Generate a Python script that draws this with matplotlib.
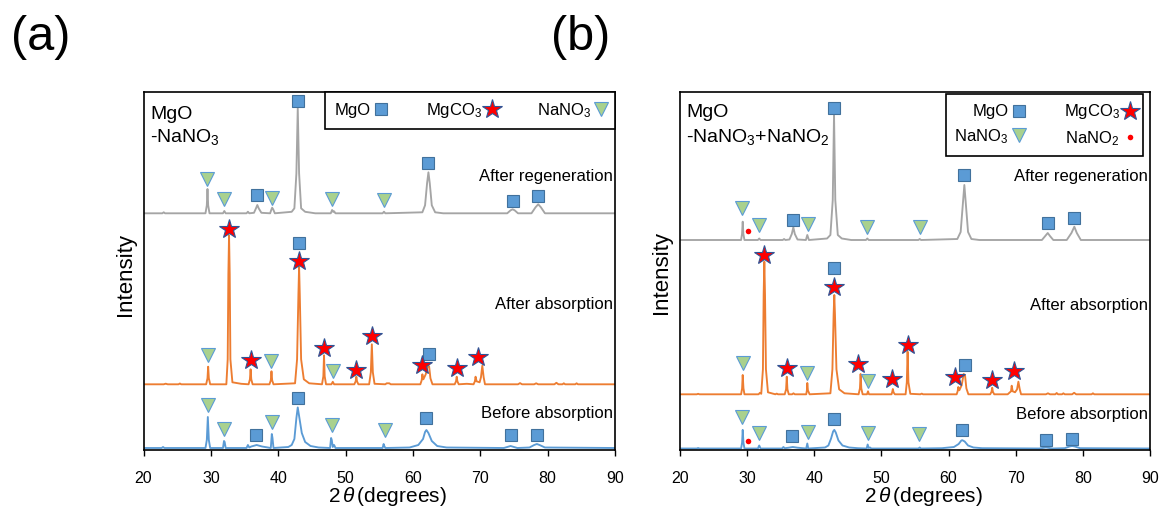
import matplotlib
matplotlib.use("Agg")
import matplotlib.pyplot as plt
from matplotlib.lines import Line2D

plt.rcParams['font.family'] = ['Liberation Sans', 'DejaVu Sans']
plt.rcParams['mathtext.fontset'] = 'custom'
plt.rcParams['mathtext.rm'] = 'Liberation Sans'
plt.rcParams['mathtext.it'] = 'Liberation Sans:italic'
plt.rcParams['mathtext.bf'] = 'Liberation Sans:bold'

# ---- panel (a): MgO-NaNO3, curves as (2theta, height above own baseline) ----
blue_a = [(20, 0), (22.7, 0), (22.9, 1), (23.1, 0), (29.2, 0), (29.4, 8), (29.55, 31), (29.7, 8), (29.9, 0),
          (31.8, 0), (31.95, 7), (32.05, 6), (32.2, 0), (35.3, 0), (35.5, 3), (35.7, 0.5), (36.0, 1.5),
          (36.8, 3), (37.6, 1.5), (38.9, 0), (39.05, 14), (39.15, 10), (39.3, 0), (41.5, 1), (42.0, 3),
          (42.4, 9), (42.7, 30), (42.9, 40.6), (43.1, 32), (43.5, 15), (44.0, 6), (44.8, 2), (46.0, 0.5),
          (47.7, 0), (47.85, 10), (47.95, 8), (48.1, 1), (48.3, 3), (48.5, 0), (55.5, 0), (55.65, 4),
          (55.75, 2), (55.9, 0), (59.5, 0.5), (60.8, 3), (61.5, 9), (61.8, 16), (62.0, 18), (62.3, 15),
          (62.8, 7), (63.6, 2), (65.0, 0.5), (73.5, 0), (74.5, 2), (75.5, 0), (77.3, 0.5), (78.0, 3),
          (78.4, 4), (78.8, 3), (79.6, 0.5), (90, 0)]
orange_a = [(20, 0), (23.0, 0), (23.3, 0.6), (23.6, 0), (25.2, 0), (25.4, 0.8), (25.6, 0), (29.3, 0),
            (29.5, 6), (29.6, 17.6), (29.7, 6), (29.9, 0), (32.3, 0), (32.5, 25), (32.6, 110), (32.7, 149),
            (32.8, 110), (32.9, 25), (33.2, 2), (34.5, 0.5), (35.6, 0), (35.8, 5), (35.9, 15), (36.0, 5),
            (36.2, 0), (38.7, 0), (38.9, 4), (39.0, 13), (39.1, 4), (39.3, 0), (42.5, 1), (42.8, 25),
            (43.0, 90), (43.1, 117.6), (43.2, 90), (43.4, 25), (43.8, 5), (44.6, 1), (46.5, 0), (46.7, 8),
            (46.8, 29), (46.9, 8), (47.1, 0), (47.9, 0), (48.1, 2.5), (48.3, 0), (51.3, 0), (51.5, 3),
            (51.6, 7.6), (51.7, 3), (51.9, 0), (53.5, 0), (53.75, 12), (53.9, 40), (54.05, 12), (54.3, 0.5),
            (55.9, 0), (56.1, 1), (56.5, 1), (56.7, 0), (61.1, 0), (61.3, 4), (61.4, 10), (61.55, 5),
            (61.9, 10), (62.2, 19), (62.4, 18), (62.6, 6), (62.9, 0), (66.2, 0), (66.4, 3), (66.5, 7.6),
            (66.6, 3), (66.8, 0), (68.0, 0.5), (69.0, 0), (69.2, 3), (69.3, 7.6), (69.45, 3), (69.9, 2),
            (70.1, 7), (70.3, 18.6), (70.5, 7), (70.7, 0), (75.6, 0), (75.9, 1.2), (76.2, 0), (78.0, 0),
            (78.3, 1), (78.6, 0), (81.0, 0), (81.3, 1.5), (81.6, 0), (82.2, 0), (82.4, 1), (82.6, 0),
            (84.1, 0), (84.3, 1), (84.5, 0), (90, 0)]
grey_a = [(20, 0), (22.8, 0), (23.0, 1), (23.2, 0), (29.2, 0), (29.4, 8), (29.5, 24.3), (29.6, 8), (29.8, 0),
          (31.8, 0), (32.0, 2.3), (32.2, 0), (35.3, 0), (35.5, 1.6), (35.7, 0), (36.4, 0.5), (36.7, 5),
          (36.9, 8.3), (37.1, 5), (37.5, 0.5), (38.8, 0), (39.0, 4), (39.1, 5.6), (39.25, 4), (39.5, 0),
          (42.0, 1.5), (42.4, 5), (42.7, 40), (42.9, 105), (43.1, 40), (43.4, 5), (44.0, 1.5), (45.5, 0),
          (47.8, 0), (48.0, 3.3), (48.15, 1.5), (48.3, 2), (48.5, 0), (55.5, 0), (55.7, 1.6), (55.9, 0),
          (61.4, 1), (61.8, 8), (62.1, 30), (62.3, 41), (62.5, 30), (62.8, 8), (63.3, 1), (64.5, 0),
          (74.0, 0), (74.5, 3), (74.8, 4), (75.1, 3), (75.6, 0), (77.6, 0), (78.2, 6), (78.6, 9),
          (79.0, 6), (79.6, 0), (90, 0)]
offsets_a = {'blue': 2, 'orange': 65.7, 'grey': 236.7}

# phase markers (2theta, absolute intensity)
squares_a = [(36.9, 255), (42.9, 349), (62.3, 286.7), (74.8, 249), (78.6, 254),
             (43.1, 207.3), (62.4, 96),
             (36.7, 15.2), (42.9, 52), (62.0, 32.4), (74.5, 15.2), (78.4, 15.2)]
triangles_a = [(29.5, 270.7), (32.0, 250.7), (39.1, 252.3), (48.0, 251), (55.7, 250),
               (29.6, 95), (39.0, 89.3), (48.1, 79.3),
               (29.6, 45), (32.0, 21.3), (39.1, 28), (48.0, 24.7), (55.8, 19.6)]
stars_a = [(32.7, 220.7), (35.9, 90), (43.1, 189.3), (46.8, 101.7), (51.6, 80), (53.9, 114),
           (61.3, 85), (66.5, 81.7), (69.6, 93.3)]
dots_a = []

# ---- panel (b): MgO-NaNO3+NaNO2 ----
blue_b = [(20, 0), (22.5, 0), (22.7, 0.5), (22.9, 0), (29.1, 0), (29.25, 6), (29.34, 18.6), (29.45, 6),
          (29.6, 0), (31.6, 0), (31.8, 3), (32.0, 0), (35.2, 0), (35.4, 1.5), (35.6, 0.3), (36.2, 0.8),
          (36.8, 1.5), (37.5, 0.8), (38.8, 0), (38.96, 5), (39.1, 0), (41.6, 1), (42.1, 3), (42.5, 10),
          (42.8, 17), (42.98, 18.6), (43.2, 16), (43.6, 8), (44.2, 3), (45.2, 1), (46.5, 0.3),
          (47.8, 0), (47.95, 4), (48.1, 0.5), (48.3, 1), (48.5, 0), (55.5, 0), (55.7, 1), (55.9, 0),
          (59.0, 0.3), (60.8, 1.5), (61.5, 4.5), (61.9, 8), (62.05, 8.3), (62.4, 7), (62.9, 3),
          (63.7, 1), (65.0, 0.3), (73.5, 0), (74.5, 1), (75.5, 0), (77.3, 0.3), (78.0, 2), (78.4, 2.5),
          (78.8, 2), (79.6, 0.3), (90, 0)]
orange_b = [(20, 0), (22.5, 0), (22.7, 0.5), (22.9, 0), (29.1, 0), (29.25, 6), (29.34, 19.3), (29.45, 6),
            (29.6, 0), (31.7, 0), (31.9, 1.5), (32.1, 0.5), (32.35, 25), (32.46, 100), (32.56, 132.6),
            (32.66, 100), (32.8, 25), (33.1, 2), (34.2, 0), (34.4, 0.7), (34.6, 0), (35.6, 0),
            (35.8, 5), (35.9, 17.6), (36.0, 5), (36.2, 0), (36.7, 0), (36.9, 1), (37.1, 0), (38.8, 0),
            (38.9, 4), (38.96, 11.3), (39.05, 4), (39.3, 0), (42.4, 1), (42.7, 25), (42.88, 80),
            (42.98, 99.3), (43.08, 80), (43.3, 25), (43.7, 5), (44.5, 1), (46.6, 0), (46.8, 6),
            (46.9, 20.3), (47.0, 6), (47.2, 0), (47.85, 0), (48.0, 3), (48.15, 0), (51.5, 0),
            (51.6, 2), (51.7, 5.3), (51.8, 2), (52.0, 0), (53.6, 0), (53.78, 12), (53.9, 42.6),
            (54.02, 12), (54.3, 0.5), (55.8, 0), (56.0, 0.7), (56.2, 0), (61.2, 0), (61.35, 3),
            (61.45, 7.3), (61.6, 4), (61.95, 9), (62.25, 20.3), (62.45, 19), (62.65, 6), (62.95, 0),
            (66.2, 0), (66.4, 2.5), (66.5, 6.6), (66.6, 2.5), (66.8, 0), (68.8, 0), (69.3, 3),
            (69.4, 8.6), (69.55, 3), (69.9, 2), (70.2, 5), (70.4, 12.6), (70.6, 5), (70.8, 0),
            (74.5, 0), (74.8, 1), (75.1, 0), (75.9, 0), (76.1, 1.3), (76.3, 0), (76.9, 0), (77.1, 1),
            (77.3, 0), (78.4, 0), (78.7, 1.5), (79.0, 0), (81.3, 0), (81.5, 1), (81.7, 0), (90, 0)]
grey_b = [(20, 0), (29.1, 0), (29.24, 6), (29.34, 18.3), (29.44, 6), (29.6, 0), (31.6, 0), (31.8, 1.5),
          (32.0, 0), (35.3, 0), (35.5, 1), (35.7, 0), (36.3, 0.5), (36.65, 6), (36.88, 12.7),
          (37.1, 6), (37.5, 0.5), (38.75, 0), (38.96, 5), (39.2, 0), (41.9, 1.5), (42.4, 5),
          (42.75, 40), (42.94, 125.7), (43.13, 40), (43.5, 5), (44.1, 1.5), (45.5, 0), (47.7, 0),
          (47.9, 1.5), (48.1, 0), (55.5, 0), (55.7, 1), (55.9, 0), (61.3, 1), (61.8, 8), (62.15, 38),
          (62.35, 55), (62.55, 38), (62.9, 8), (63.4, 1), (64.6, 0), (73.9, 0), (74.4, 4), (74.77, 7),
          (75.1, 4), (75.6, 0), (77.6, 0), (78.3, 7), (78.73, 13.3), (79.1, 7), (79.7, 0), (90, 0)]
offsets_b = {'blue': 1.5, 'orange': 55.7, 'grey': 210}

squares_b = [(36.9, 230), (42.94, 342.3), (62.35, 275), (74.8, 227), (78.7, 232.3),
             (42.98, 181.7), (62.45, 85),
             (36.7, 14), (43.0, 30.7), (62.05, 20), (74.5, 10), (78.4, 10.7)]
triangles_b = [(29.3, 241.7), (31.8, 225), (39.0, 226), (47.9, 223.3), (55.7, 222.7),
               (29.34, 86.7), (38.96, 77.3), (48.05, 69.3),
               (29.3, 33.3), (31.8, 16.7), (39.0, 18.3), (48.05, 16.7), (55.55, 16)]
stars_b = [(32.56, 195), (35.9, 81.7), (42.98, 163.3), (46.56, 86), (51.6, 70.7), (54.0, 105),
           (60.96, 73.3), (66.4, 70), (69.8, 79.3)]
dots_b = [(30.2, 219), (30.2, 9.3)]

line_colors = {'grey': '#A5A5A5', 'orange': '#ED7D31', 'blue': '#5B9BD5'}
sq_style = dict(marker='s', ms=8, mfc='#5B9BD5', mec='#41719C', mew=0.8)
tri_style = dict(marker='v', ms=9.5, mfc='#A9D18E', mec='#5B9BD5', mew=0.8)
star_style = dict(marker='*', ms=15, mfc='#FF0000', mec='#2F5597', mew=0.8)
dot_style = dict(marker='o', ms=4, mfc='#FF0000', mec='#FF0000', mew=0)

W, H = 1162, 512
fig = plt.figure(figsize=(W / 100, H / 100), dpi=100)


def fx(px):
    return px / W


def fy(py):
    return 1 - py / H


def draw_panel(ax, curves, offsets, squares, triangles, stars, dots):
    for name in ['blue', 'orange', 'grey']:
        xs = [p[0] for p in curves[name]]
        ys = [p[1] + offsets[name] for p in curves[name]]
        ax.plot(xs, ys, color=line_colors[name], lw=1.35, zorder=2)
    for pts, st in [(squares, sq_style), (triangles, tri_style), (stars, star_style), (dots, dot_style)]:
        if pts:
            ax.plot([p[0] for p in pts], [p[1] for p in pts], ls='none', zorder=4, clip_on=False, **st)
    ax.set_xlim(20, 90)
    ax.set_ylim(0, 358)
    ax.set_xticks(range(20, 91, 10))
    ax.set_yticks([])
    ax.tick_params(axis='x', direction='out', length=4, width=1, labelsize=11.5, pad=11)
    for s in ax.spines.values():
        s.set_linewidth(1.2)
        s.set_color('black')


ax_a = fig.add_axes([fx(143.5), fy(450), fx(615 - 143.5), (450 - 92) / H])
ax_b = fig.add_axes([fx(680), fy(450), fx(1150 - 680), (450 - 92) / H])

draw_panel(ax_a, {'blue': blue_a, 'orange': orange_a, 'grey': grey_a}, offsets_a,
           squares_a, triangles_a, stars_a, dots_a)
draw_panel(ax_b, {'blue': blue_b, 'orange': orange_b, 'grey': grey_b}, offsets_b,
           squares_b, triangles_b, stars_b, dots_b)

# legends (marker after label)
h_mgo = Line2D([], [], ls='none', **sq_style)
h_mgco3 = Line2D([], [], ls='none', **star_style)
h_nano3 = Line2D([], [], ls='none', **tri_style)
h_nano2 = Line2D([], [], ls='none', **dot_style)

leg_kw = dict(markerfirst=False, fontsize=12, frameon=True, fancybox=False, framealpha=1,
              edgecolor='black', handlelength=0.6, handletextpad=0.3, borderaxespad=0)
leg_a = ax_a.legend([h_mgo, h_mgco3, h_nano3], ['MgO', 'MgCO$_3$', 'NaNO$_3$'], ncol=3,
                    loc='upper right', bbox_to_anchor=(1, 1), columnspacing=2.4, borderpad=0.55, **leg_kw)
leg_a.get_frame().set_linewidth(1.2)
leg_b = ax_b.legend([h_mgo, h_nano3, h_mgco3, h_nano2], ['MgO', 'NaNO$_3$', 'MgCO$_3$', 'NaNO$_2$'], ncol=2,
                    loc='upper right', bbox_to_anchor=((1143 - 680) / 470, (450 - 94) / 358),
                    columnspacing=2.4, borderpad=0.5, labelspacing=0.45, **leg_kw)
leg_b.get_frame().set_linewidth(1.2)

# panel titles and curve labels
fig.text(fx(150), fy(118.7), 'MgO', fontsize=14, va='baseline')
fig.text(fx(150), fy(141.7), '-NaNO$_3$', fontsize=14, va='baseline')
fig.text(fx(686), fy(117.3), 'MgO', fontsize=14, va='baseline')
fig.text(fx(686), fy(141.7), '-NaNO$_3$+NaNO$_2$', fontsize=14, va='baseline')

for x_right, ys in [(613, (181, 309, 418)), (1148, (181.5, 310, 419))]:
    for y, lab in zip(ys, ['After regeneration', 'After absorption', 'Before absorption']):
        fig.text(fx(x_right), fy(y), lab, fontsize=12, ha='right', va='baseline')

fig.text(fx(41), fy(38), '(a)', fontsize=35, ha='center', va='center')
fig.text(fx(581), fy(38), '(b)', fontsize=35, ha='center', va='center')

for xc, yc in [(126, 275), (661, 273)]:
    fig.text(fx(xc), fy(yc), 'Intensity', fontsize=16, rotation=90, ha='center', va='center')
for xc in [387, 923]:
    fig.text(fx(xc), fy(496), r'2$\,\theta\,$(degrees)', fontsize=15, ha='center', va='center')

fig.savefig('out.png', dpi=100)
